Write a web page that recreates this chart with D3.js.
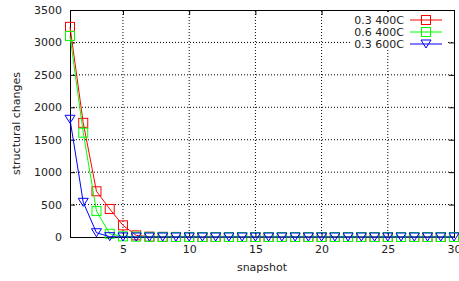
<!DOCTYPE html>
<html>
<head>
<meta charset="utf-8">
<script src="https://cdn.jsdelivr.net/npm/d3@7"></script>
<style>
  body { margin: 0; background: #fff; }
  text { font-family: "DejaVu Sans", sans-serif; font-size: 11px; fill: #222; }
</style>
</head>
<body>
<div id="chart"></div>
<script>
const SNAPSHOTS = d3.range(1, 31);
const SERIES_NAMES = ["0.3 400C", "0.6 400C", "0.3 600C"];
const RED = [3240, 1760, 705, 432, 180, 25, 5, 2, 1, 1, 0, 0, 0, 0, 0, 0, 0, 0, 0, 0, 0, 0, 0, 0, 0, 0, 0, 0, 0, 0];
const GREEN = [3100, 1608, 400, 50, 10, 5, 2, 1, 0, 0, 0, 0, 0, 0, 0, 0, 0, 0, 0, 0, 0, 0, 0, 0, 0, 0, 0, 0, 0, 0];
const BLUE = [1815, 535, 66, 5, 1, 0, 0, 0, 0, 0, 0, 0, 0, 0, 0, 0, 0, 0, 0, 0, 0, 0, 0, 0, 0, 0, 0, 0, 0, 0];
const X_TICKS = [5, 10, 15, 20, 25, 30];
const Y_TICKS = [0, 500, 1000, 1500, 2000, 2500, 3000, 3500];

const width = 459;
const height = 281;
const margin = { top: 10, right: 5, bottom: 44, left: 70 };

const x = d3.scaleLinear().domain([1, 30]).range([margin.left, width - margin.right]);
const y = d3.scaleLinear().domain([0, 3500]).range([height - margin.bottom, margin.top]);

const series = [
  { name: SERIES_NAMES[0], values: RED, color: "#ff0000", marker: "square" },
  { name: SERIES_NAMES[1], values: GREEN, color: "#00ff00", marker: "square" },
  { name: SERIES_NAMES[2], values: BLUE, color: "#0000ff", marker: "triangle" },
];

const svg = d3.select("#chart").append("svg").attr("width", width).attr("height", height);

// grid
svg.append("g")
  .selectAll("line")
  .data(X_TICKS.filter((t) => t < 30))
  .join("line")
  .attr("x1", (d) => x(d)).attr("x2", (d) => x(d))
  .attr("y1", y(0)).attr("y2", y(3500))
  .attr("stroke", "#000").attr("stroke-width", 1).attr("stroke-dasharray", "1,2");

svg.append("g")
  .selectAll("line")
  .data(Y_TICKS.filter((t) => t > 0 && t < 3500))
  .join("line")
  .attr("x1", x(1)).attr("x2", x(30))
  .attr("y1", (d) => y(d)).attr("y2", (d) => y(d))
  .attr("stroke", "#000").attr("stroke-width", 1).attr("stroke-dasharray", "1,2");

const fmt = d3.format("d");

// axes (with mirrored ticks like gnuplot)
svg.append("g")
  .attr("transform", `translate(0,${y(0)})`)
  .call(d3.axisBottom(x).tickValues(X_TICKS).tickFormat(fmt).tickSize(-5).tickPadding(8))
  .call((g) => g.select(".domain").remove());

svg.append("g")
  .attr("transform", `translate(0,${y(3500)})`)
  .call(d3.axisTop(x).tickValues(X_TICKS).tickFormat("").tickSize(-5))
  .call((g) => g.select(".domain").remove());

svg.append("g")
  .attr("transform", `translate(${x(1)},0)`)
  .call(d3.axisLeft(y).tickValues(Y_TICKS).tickFormat(fmt).tickSize(-5).tickPadding(8))
  .call((g) => g.select(".domain").remove());

svg.append("g")
  .attr("transform", `translate(${x(30)},0)`)
  .call(d3.axisRight(y).tickValues(Y_TICKS).tickFormat("").tickSize(-5))
  .call((g) => g.select(".domain").remove());

svg.selectAll(".tick text").style("font-size", "11px");

// border
svg.append("rect")
  .attr("x", x(1) + 0.5).attr("y", y(3500) + 0.5)
  .attr("width", x(30) - x(1)).attr("height", y(0) - y(3500))
  .attr("fill", "none").attr("stroke", "#000").attr("stroke-width", 1);

const line = d3.line().x((d, i) => x(SNAPSHOTS[i])).y((d) => y(d));

function drawMarker(g, kind, color) {
  if (kind === "square") {
    g.append("rect").attr("x", -4.5).attr("y", -4.5).attr("width", 9).attr("height", 9)
      .attr("fill", "none").attr("stroke", color).attr("stroke-width", 1);
  } else {
    g.append("path").attr("d", "M-5,-4L5,-4L0,4Z")
      .attr("fill", "none").attr("stroke", color).attr("stroke-width", 1);
  }
}

for (const s of series) {
  svg.append("path")
    .attr("d", line(s.values))
    .attr("fill", "none").attr("stroke", s.color).attr("stroke-width", 1);
  svg.append("g")
    .selectAll("g")
    .data(s.values)
    .join("g")
    .attr("transform", (d, i) => `translate(${x(SNAPSHOTS[i])},${y(d)})`)
    .each(function () { drawMarker(d3.select(this), s.marker, s.color); });
}

// legend (opaque box like gnuplot)
svg.append("rect")
  .attr("x", 350).attr("y", 12).attr("width", 98).attr("height", 38)
  .attr("fill", "#fff");

const legend = svg.append("g")
  .selectAll("g")
  .data(series)
  .join("g")
  .attr("transform", (d, i) => `translate(0,${20 + i * 12})`);

legend.append("text")
  .attr("x", 404).attr("dy", "0.35em").attr("text-anchor", "end")
  .text((d) => d.name);
legend.append("line")
  .attr("x1", 410).attr("x2", 442)
  .attr("stroke", (d) => d.color);
legend.append("g")
  .attr("transform", "translate(426,0)")
  .each(function (d) { drawMarker(d3.select(this), d.marker, d.color); });

// axis titles
svg.append("text")
  .attr("x", x(15.5)).attr("y", 271).attr("text-anchor", "middle")
  .text("snapshot");
svg.append("text")
  .attr("transform", `translate(20,${(y(0) + y(3500)) / 2}) rotate(-90)`)
  .attr("text-anchor", "middle")
  .text("structural changes");
</script>
</body>
</html>
